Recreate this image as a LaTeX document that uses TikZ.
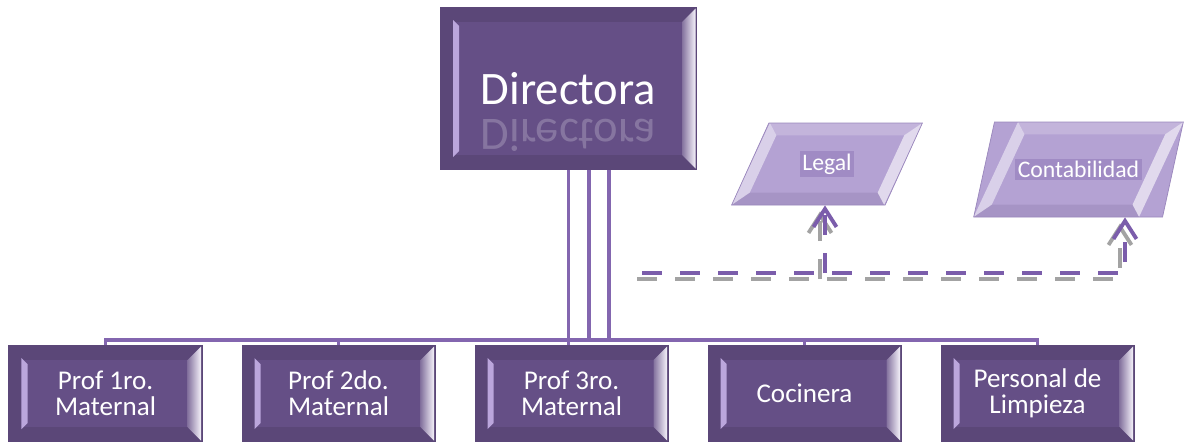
\documentclass[tikz,border=0pt]{standalone}
\usepackage{fontspec}
\setmainfont{Carlito}
\usetikzlibrary{positioning, shapes.geometric, arrows.meta, calc}

\definecolor{boxdark}{HTML}{5B4778}
\definecolor{boxinner}{HTML}{654F86}
\definecolor{bevlight}{HTML}{BBA6DC}
\definecolor{lavfill}{HTML}{B4A2D3}
\definecolor{lavedge}{HTML}{9A87BC}
\definecolor{linepurple}{HTML}{8366AF}
\definecolor{dashpurple}{HTML}{7B5DAB}
\definecolor{shadowgray}{HTML}{A3A3A3}
\definecolor{glowpurple}{HTML}{A08BC4}

\newcommand{\dirfont}{\fontsize{26.5}{30}\selectfont}
\newcommand{\staffont}{\fontsize{15.4}{14.8}\selectfont}
\newcommand{\parafont}{\fontsize{13.5}{15}\selectfont}
\newcommand{\glow}[1]{{\setlength{\fboxsep}{1.5pt}\colorbox{glowpurple}{#1}}}

\tikzset{
  orgbox/.style={rectangle, fill=boxdark, text=white, align=center, inner sep=0pt, font=\staffont,
    path picture={
      \fill[boxinner] ([shift={(0.3,-0.3)}]path picture bounding box.north west) rectangle ([shift={(-0.3,0.3)}]path picture bounding box.south east);
      \fill[bevlight] ([shift={(0.26,-0.26)}]path picture bounding box.north west) -- ([shift={(0.38,-0.38)}]path picture bounding box.north west)
        -- ([shift={(0.38,0.38)}]path picture bounding box.south west) -- ([shift={(0.26,0.26)}]path picture bounding box.south west) -- cycle;
      \shade[left color=boxinner!80!white, right color=white!85!bevlight] ([shift={(-0.3,-0.3)}]path picture bounding box.north east) -- ([shift={(-0.03,-0.03)}]path picture bounding box.north east)
        -- ([shift={(-0.03,0.03)}]path picture bounding box.south east) -- ([shift={(-0.3,0.3)}]path picture bounding box.south east) -- cycle;
    }},
  parabox/.style={trapezium, trapezium left angle=65, trapezium right angle=115, trapezium stretches=true,
    fill=lavfill, draw=lavedge, text=white, inner xsep=0pt, font=\parafont,
    path picture={
      \path let \p1=(path picture bounding box.south west), \p2=(path picture bounding box.north east), \n1={0.4663*(\y2-\y1)} in
        (\x1,\y1) coordinate (bl) (\x1+\n1,\y2) coordinate (tl) (\x2,\y2) coordinate (tr) (\x2-\n1,\y1) coordinate (br)
        (\x1+10.3pt,\y1+7pt) coordinate (bli) (\x1+\n1+3.7pt,\y2-7pt) coordinate (tli)
        (\x2-10.3pt,\y2-7pt) coordinate (tri) (\x2-\n1-3.7pt,\y1+7pt) coordinate (bri);
      \fill[white, opacity=.5] (bl) -- (tl) -- (tli) -- (bli) -- cycle;
      \fill[white, opacity=.6] (tr) -- (br) -- (bri) -- (tri) -- cycle;
      \fill[white, opacity=.2] (tl) -- (tr) -- (tri) -- (tli) -- cycle;
      \fill[boxdark, opacity=.15] (bl) -- (br) -- (bri) -- (bli) -- cycle;
    }},
  orgline/.style={draw=linepurple, line width=2pt},
  dashlink/.style={
    preaction={draw=shadowgray, line width=2.2pt, dash pattern=on 0.4cm off 0.36cm,
      -{Straight Barb[length=0.36cm, width=0.46cm]}, transform canvas={shift={(-0.1cm,-0.12cm)}}},
    draw=dashpurple, line width=2.2pt, dash pattern=on 0.4cm off 0.36cm,
    -{Straight Barb[length=0.36cm, width=0.46cm]}}
}

\begin{document}
\begin{tikzpicture}[node distance=4.66cm, on grid]
\useasboundingbox (0,0) rectangle (23.7,8.88);

% head
\node[orgbox, minimum width=5.14cm, minimum height=3.26cm, font=\dirfont] (dir) at (11.37,7.11) {Directora};
\node[text=white, text opacity=.22, font=\dirfont] (dirrefl) at ([yshift=-0.93cm]dir.center) {\scalebox{1}[-1]{Directora}};

% staff
\node[orgbox, minimum width=3.88cm, minimum height=1.94cm] (p1) at (2.11,1.01) {Prof 1ro.\\Maternal};
\node[orgbox, minimum width=3.88cm, minimum height=1.94cm, right=of p1] (p2) {Prof 2do.\\Maternal};
\node[orgbox, minimum width=3.88cm, minimum height=1.94cm, right=of p2] (p3) {Prof 3ro.\\Maternal};
\node[orgbox, minimum width=3.88cm, minimum height=1.94cm, right=of p3] (coc) {Cocinera};
\node[orgbox, minimum width=3.88cm, minimum height=1.94cm, right=of coc] (limp) {Personal de\\Limpieza};

% advisors
\node[parabox, minimum width=3.82cm, minimum height=1.64cm] (leg) at (16.54,5.6) {\glow{Legal}};
\node[parabox, minimum width=4.2cm, minimum height=1.9cm] (cont) at (21.57,5.49) {\glow{Contabilidad}};

% lines
\coordinate (bus) at (0,2.08);
\draw[orgline] (p1.north) -- (p1.north |- bus) -- (limp.north |- bus) -- (limp.north);
\foreach \n in {p2,coc} \draw[orgline] (\n.north) -- (\n.north |- bus);
\draw[orgline] (dir.south) -- (dir.south |- p3.north);
\foreach \dx in {0.41,0.81} \draw[orgline] ([xshift=\dx cm]dir.south) -- ([xshift=\dx cm]dir.south |- bus);

\coordinate (dstart) at (12.84,3.42);
\coordinate (dlegal) at (16.5,3.42);
\coordinate (dcont) at (22.5,3.42);
\draw[dashlink] (dstart) -- (dcont) -- (dcont |- cont.south);
\draw[dashlink] (dlegal) -- (dlegal |- leg.south);

\end{tikzpicture}
\end{document}
